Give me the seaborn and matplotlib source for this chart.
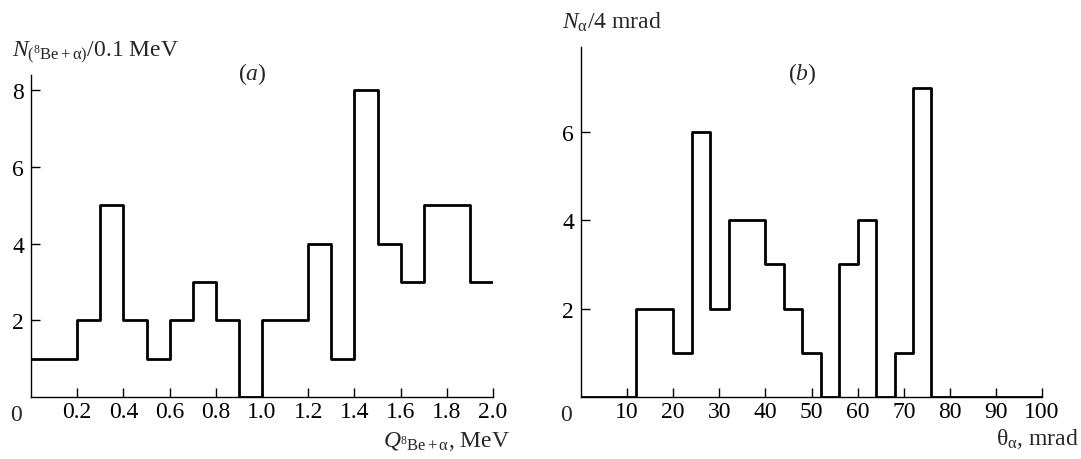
import numpy as np
import pandas as pd
import matplotlib
matplotlib.use("Agg")
import matplotlib.pyplot as plt
import seaborn as sns

# panel (a): Q of 8Be+alpha, 0.1 MeV bins
q_edges = [round(0.1 * i, 1) for i in range(21)]
q_counts = [1, 1, 2, 5, 2, 1, 2, 3, 2, 0, 2, 2, 4, 1, 8, 4, 3, 5, 5, 3]
q_ticks = [0.2, 0.4, 0.6, 0.8, 1.0, 1.2, 1.4, 1.6, 1.8, 2.0]
q_yticks = [2, 4, 6, 8]

# panel (b): theta alpha, 4 mrad bins
th_edges = list(range(0, 101, 4))
th_counts = [0, 0, 0, 2, 2, 1, 6, 2, 4, 4, 3, 2, 1, 0, 3, 4, 0, 1, 7,
             0, 0, 0, 0, 0, 0]
th_ticks = [10, 20, 30, 40, 50, 60, 70, 80, 90, 100]
th_yticks = [2, 4, 6]

sns.set_style("ticks")
plt.rcParams['font.family'] = ['Liberation Serif', 'DejaVu Serif']
plt.rcParams['mathtext.fontset'] = 'custom'
plt.rcParams['mathtext.rm'] = 'Liberation Serif'
plt.rcParams['mathtext.it'] = 'Liberation Serif:italic'
plt.rcParams['mathtext.bf'] = 'Liberation Serif:bold'

FS = 17
fig = plt.figure(figsize=(10.81, 4.6), dpi=100)
ax1 = fig.add_axes([0.0287, 0.1348, 0.4274, 0.70])
ax2 = fig.add_axes([0.5375, 0.1348, 0.4265, 0.7609])


def draw(ax, edges, counts, xticks, yticks, xlim, ylim):
    e = np.asarray(edges, dtype=float)
    df = pd.DataFrame({"x": (e[:-1] + e[1:]) / 2, "w": counts})
    sns.histplot(data=df, x="x", weights="w", bins=list(e), element="step",
                 fill=False, color="black", linewidth=2.0, ax=ax)
    ax.set_xlim(*xlim)
    ax.set_ylim(*ylim)
    ax.set_xticks(xticks)
    ax.set_yticks(yticks)
    ax.set_xlabel("")
    ax.set_ylabel("")
    for s in ["top", "right"]:
        ax.spines[s].set_visible(False)
    for s in ["left", "bottom"]:
        ax.spines[s].set_linewidth(1.0)
        ax.spines[s].set_color("black")
    ax.tick_params(direction="in", length=6.5, width=1.0, labelsize=FS,
                   colors="black")
    ax.tick_params(axis="x", pad=3)
    ax.tick_params(axis="y", pad=5)
    # corner zero
    ax.annotate("0", xy=(0, 0), xycoords="axes fraction", xytext=(-11, -5),
                textcoords="offset points", ha="center", va="top",
                fontsize=FS)


draw(ax1, q_edges, q_counts, q_ticks, q_yticks, (0, 2.0), (0, 8.4))
ax1.set_xticklabels([f"{t:.1f}" for t in q_ticks])
draw(ax2, th_edges, th_counts, th_ticks, th_yticks, (0, 100), (0, 7.92))

# axis titles
fig.text(12 / 1081, 1 - 57 / 460,
         r"$N_{(^{8}\mathrm{Be}+\mathrm{\alpha})}$/0.1 MeV", fontsize=FS,
         ha="left", va="baseline")
fig.text(562 / 1081, 1 - 29 / 460, r"$N_{\mathrm{\alpha}}$/4 mrad",
         fontsize=FS, ha="left", va="baseline")
fig.text(510 / 1081, 1 - 447 / 460,
         r"$Q_{^{8}\mathrm{Be}+\mathrm{\alpha}}$, MeV", fontsize=FS,
         ha="right", va="baseline")
fig.text(1079 / 1081, 1 - 445 / 460,
         r"$\mathrm{\theta}_{\mathrm{\alpha}}$, mrad",
         fontsize=FS, ha="right", va="baseline")

# panel letters
fig.text(252 / 1081, 1 - 80 / 460, r"($\mathit{a}$)", fontsize=FS,
         ha="center", va="baseline")
fig.text(802 / 1081, 1 - 80 / 460, r"($\mathit{b}$)", fontsize=FS,
         ha="center", va="baseline")

fig.savefig("out.png", dpi=100)
